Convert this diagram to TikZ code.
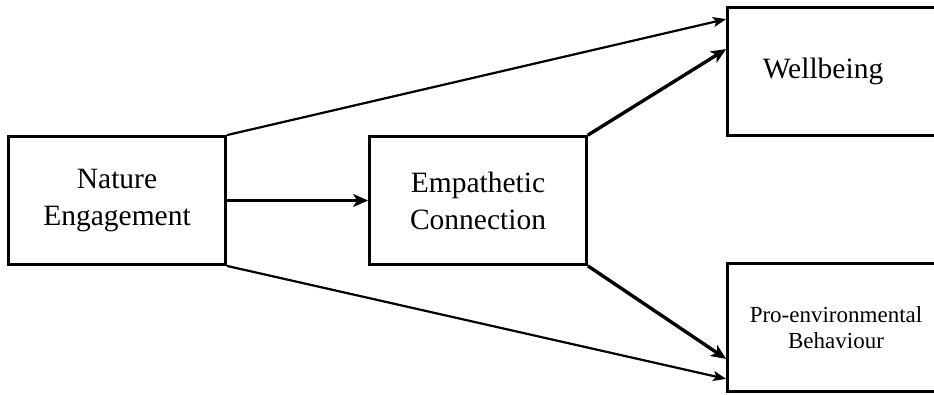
\documentclass[tikz,border=0pt]{standalone}
\usepackage{fontspec}
\setmainfont{Liberation Serif}
\usetikzlibrary{arrows.meta}

\begin{document}
\begin{tikzpicture}[x=1pt,y=-1pt,
		box/.style={draw, line width=2.8pt, minimum width=217pt, minimum height=128pt, inner sep=0pt, align=center, font=\fontsize{29.5}{37}\selectfont},
		thin/.style={line width=2.2pt, -{Stealth[length=13pt,width=10pt,inset=3pt]}},
		thick/.style={line width=3.4pt, -{Stealth[length=15pt,width=13pt,inset=4pt]}}]
			\useasboundingbox (0,0) rectangle (934,394);
			\node[box] (nature) at (117,200.5) {Nature\\Engagement};
			\node[box] (empathy) at (478,200.5) {Empathetic\\Connection};
			\node[box, label={[font=\fontsize{29.5}{37}\selectfont, xshift=-13pt]center:Wellbeing}] (wellbeing) at (836,71.5) {};
			\node[box, font=\fontsize{23}{26}\selectfont] (behaviour) at (836,327.5) {Pro-environmental\\Behaviour};
			
			\draw[thick] (nature.east) -- (empathy.west);
			\draw[thin] (nature.north east) -- ([yshift=-13pt]wellbeing.north west);
			\draw[thick] (empathy.north east) -- ([yshift=-43pt]wellbeing.north west);
			\draw[thick] (empathy.south east) -- ([yshift=34pt]behaviour.south west);
			\draw[thin] (nature.south east) -- ([yshift=14pt]behaviour.south west);
		\end{tikzpicture}
\end{document}
